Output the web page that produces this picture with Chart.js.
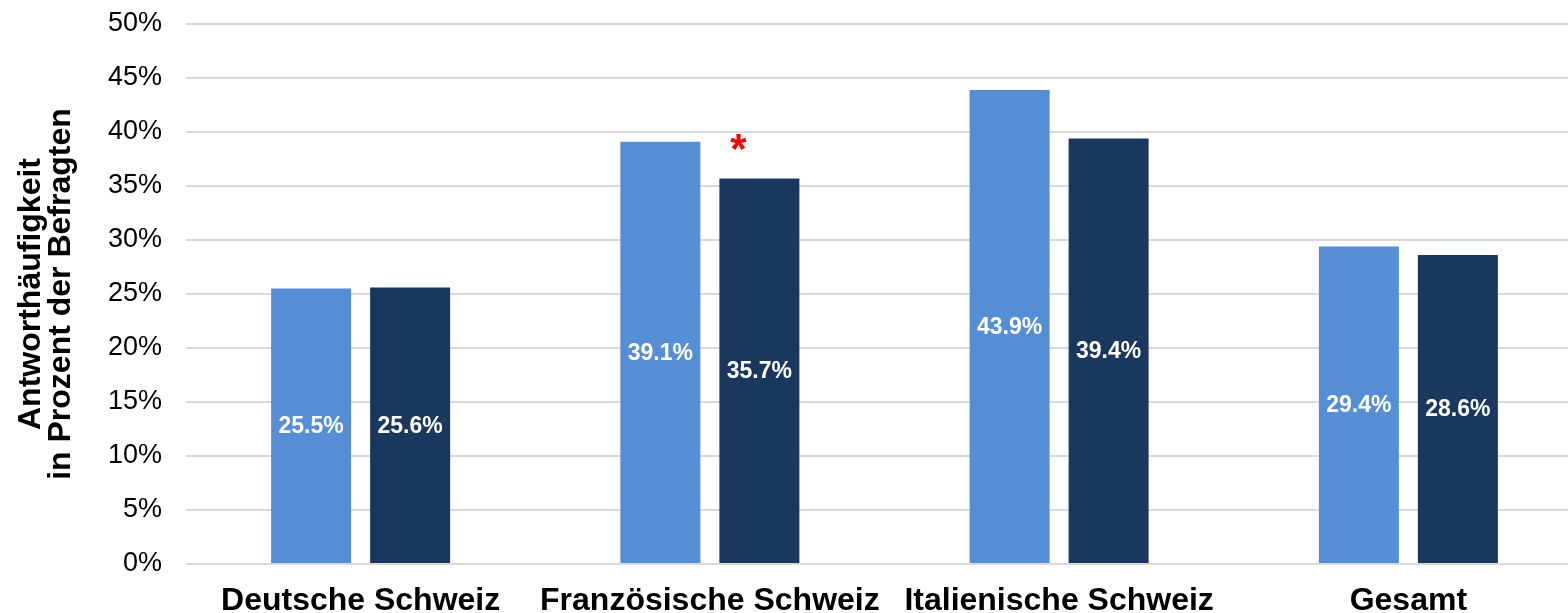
<!DOCTYPE html>
<html>
<head>
<meta charset="utf-8">
<script src="https://cdn.jsdelivr.net/npm/chart.js@4"></script>
<style>
  html, body { margin: 0; padding: 0; background: #fff; overflow: hidden; }
  #wrap { width: 1583px; height: 613px; }
</style>
</head>
<body>
<div id="wrap"><canvas id="myChart"></canvas></div>
<script>
const regions = ['Deutsche Schweiz', 'Französische Schweiz', 'Italienische Schweiz', 'Gesamt'];
const serieA = [25.5, 39.1, 43.9, 29.4];
const serieB = [25.6, 35.7, 39.4, 28.6];
const yTicks = [0, 5, 10, 15, 20, 25, 30, 35, 40, 45, 50];
const markedBars = [{ dataset: 1, index: 1, text: '*' }];

const FONT = '"Liberation Sans", Arial, sans-serif';

// white value labels in the middle of each bar + red asterisk
const barLabels = {
    id: 'barLabels',
    afterDatasetsDraw(chart) {
        const ctx = chart.ctx;
        ctx.save();
        chart.data.datasets.forEach((ds, di) => {
            chart.getDatasetMeta(di).data.forEach((bar, i) => {
                ctx.fillStyle = '#ffffff';
                ctx.font = 'bold 23px ' + FONT;
                ctx.textAlign = 'center';
                ctx.textBaseline = 'middle';
                ctx.fillText(ds.data[i].toFixed(1) + '%', bar.x, (bar.y + bar.base) / 2 + 1);
            });
        });
        markedBars.forEach(m => {
            const bar = chart.getDatasetMeta(m.dataset).data[m.index];
            ctx.fillStyle = '#ff0000';
            ctx.font = 'bold 42px ' + FONT;
            ctx.textAlign = 'center';
            ctx.textBaseline = 'middle';
            ctx.fillText(m.text, bar.x - 21, bar.y - 27);
        });
        ctx.restore();
    }
};

var ctx = document.getElementById('myChart').getContext('2d');
var chart = new Chart(ctx, {
    type: 'bar',
    data: {
        labels: regions,
        datasets: [{
            label: 'Serie A',
            data: serieA,
            backgroundColor: '#558ED5',
            categoryPercentage: 0.567,
            barPercentage: 0.808
        }, {
            label: 'Serie B',
            data: serieB,
            backgroundColor: '#1A375E',
            categoryPercentage: 0.567,
            barPercentage: 0.808
        }]
    },
    options: {
        responsive: true,
        maintainAspectRatio: false,
        animation: false,
        layout: { padding: 0 },
        plugins: {
            legend: { display: false },
            tooltip: { enabled: false }
        },
        scales: {
            x: {
                afterFit: scale => { scale.height = 49; },
                grid: { display: false },
                border: { display: false },
                ticks: {
                    color: '#000',
                    padding: 13,
                    maxRotation: 0,
                    font: { family: FONT, size: 32, weight: 'bold', lineHeight: 1 }
                }
            },
            y: {
                min: 0,
                max: 50,
                afterBuildTicks: scale => { scale.ticks = yTicks.map(v => ({ value: v })); },
                afterFit: scale => { scale.width = 186; scale.paddingTop = 24; },
                grid: { color: '#d9d9d9', lineWidth: 2, drawTicks: false },
                border: { display: false },
                ticks: {
                    color: '#000',
                    padding: 24,
                    font: { family: FONT, size: 27 },
                    callback: v => v + '%'
                },
                title: {
                    display: true,
                    text: ['Antworthäufigkeit', 'in Prozent der Befragten'],
                    color: '#000',
                    padding: { top: 16, bottom: 0 },
                    font: { family: FONT, size: 32, weight: 'bold', lineHeight: 0.94 }
                }
            }
        }
    },
    plugins: [barLabels]
});
</script>
</body>
</html>
